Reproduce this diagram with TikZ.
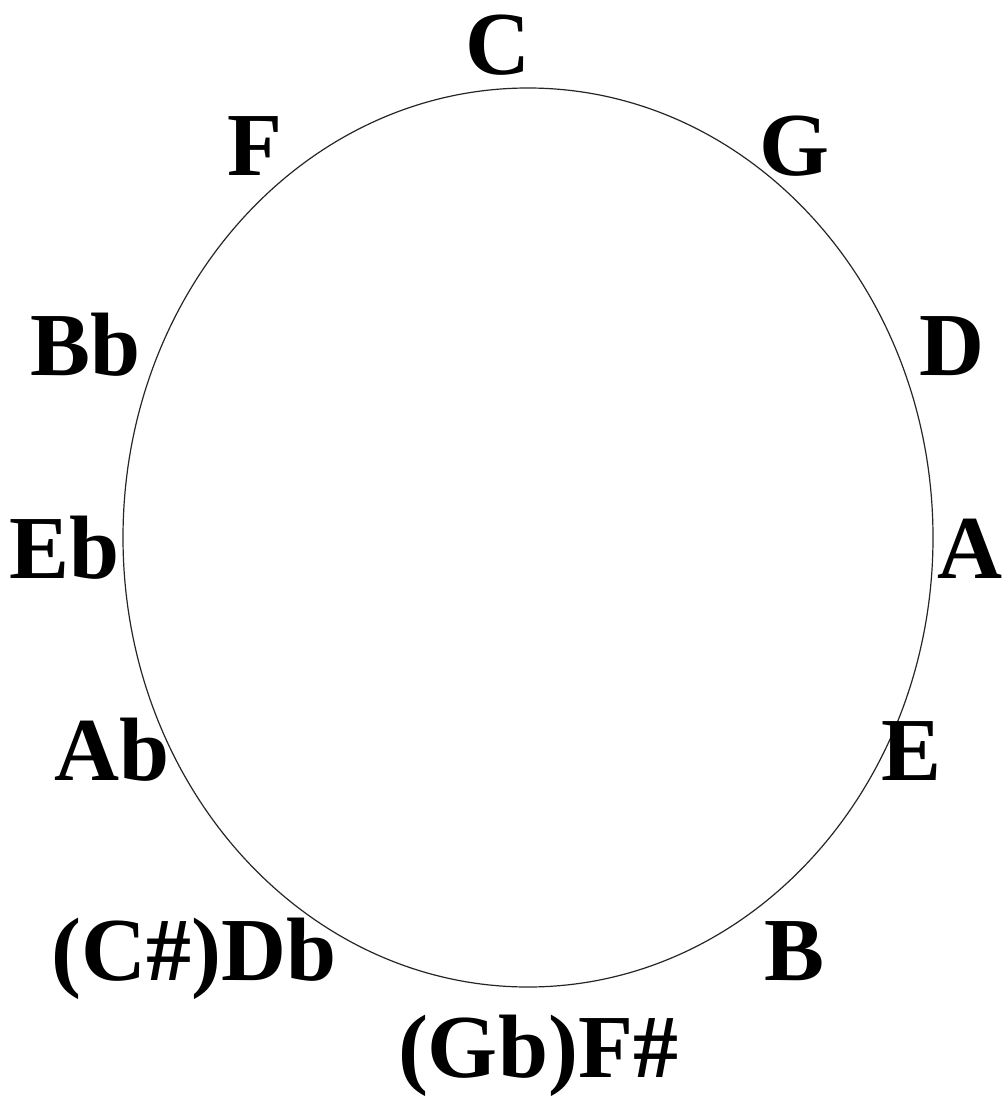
\documentclass[tikz,border=0pt]{standalone}
\usepackage{fontspec}
\setmainfont{Liberation Serif}
\begin{document}
\begin{tikzpicture}[x=1pt,y=-1pt,
  note/.style={anchor=base,inner sep=0pt,font=\fontsize{90}{90}\selectfont\bfseries}]
\useasboundingbox (0,0) rectangle (1004,1097);
\fill[white] (0,0) rectangle (1004,1097);
\draw[line width=1.2pt,black!85] (528,537.5) ellipse [x radius=405, y radius=449.5];
\node[note] (c) at (498,75) {C};
\node[note] (g) at (794,175) {G};
\node[note] (d) at (952,375) {D};
\node[note] (a) at (970,578) {A};
\node[note] (e) at (912,780) {E};
\node[note] (b) at (795,980) {B};
\node[note] (fs) at (538,1077) {(Gb)F\#};
\node[note] (db) at (194,980) {(C\#)Db};
\node[note] (ab) at (112,780) {Ab};
\node[note] (eb) at (65,578) {Eb};
\node[note] (bb) at (86,375) {Bb};
\node[note] (f) at (255,175) {F};
\end{tikzpicture}
\end{document}
